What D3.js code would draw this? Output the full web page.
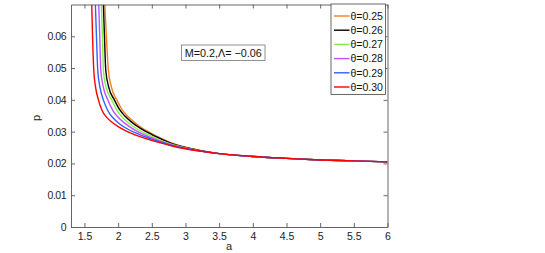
<!DOCTYPE html>
<html><head><meta charset="utf-8">
<script src="https://cdn.jsdelivr.net/npm/d3@7"></script>
<style>body{margin:0;background:#fff}svg{display:block}text{font-family:"Liberation Sans",Arial,sans-serif}</style>
</head><body>
<svg id="c" width="545" height="253"></svg>
<script>
const thetaLabels = ["θ=0.25","θ=0.26","θ=0.27","θ=0.28","θ=0.29","θ=0.30"];
const colors = ["#f07f20","#000000","#80f040","#c050ff","#3060ff","#ff0000"];
const xTicks = [1.5,2,2.5,3,3.5,4,4.5,5,5.5,6];
const yTicks = [0,0.01,0.02,0.03,0.04,0.05,0.06];
const tail = [[3.5,0.0231],[4,0.0222],[4.5,0.0216],[5,0.0211],[5.5,0.0208],[6,0.0205]];
const s025 = [[1.802,0.070],[1.825,0.060],[1.855,0.0494],[1.9,0.044],[1.98,0.040],[2.05,0.0372],[2.13,0.0351],[2.23,0.0332],[2.35,0.0312],[2.5,0.0294],[2.65,0.0278],[2.8,0.0264],[3,0.0251]];
const s026 = [[1.781,0.070],[1.797,0.060],[1.816,0.0494],[1.86,0.044],[1.944,0.040],[2.02,0.0370],[2.1,0.0349],[2.2,0.0330],[2.35,0.0308],[2.5,0.0291],[2.65,0.0276],[2.8,0.0262],[3,0.0250]];
const s027 = [[1.751,0.070],[1.766,0.060],[1.781,0.0494],[1.82,0.044],[1.905,0.040],[1.98,0.0368],[2.05,0.0348],[2.15,0.0328],[2.3,0.0306],[2.45,0.0290],[2.6,0.0275],[2.8,0.0260],[3,0.0249]];
const s028 = [[1.712,0.070],[1.727,0.060],[1.742,0.0494],[1.78,0.044],[1.846,0.040],[1.92,0.0367],[2.0,0.0345],[2.1,0.0326],[2.25,0.0305],[2.4,0.0289],[2.6,0.0272],[2.8,0.0258],[3,0.0248]];
const s029 = [[1.662,0.070],[1.678,0.060],[1.697,0.0494],[1.73,0.044],[1.78,0.040],[1.85,0.0365],[1.93,0.0342],[2.0,0.0328],[2.1,0.0313],[2.25,0.0297],[2.4,0.0284],[2.6,0.0269],[2.8,0.0257],[3,0.0247]];
const s030 = [[1.608,0.070],[1.620,0.060],[1.638,0.0494],[1.665,0.044],[1.707,0.040],[1.76,0.0367],[1.83,0.0345],[1.90,0.0331],[2.0,0.0316],[2.1,0.0304],[2.25,0.0290],[2.4,0.0279],[2.6,0.0266],[2.8,0.0255],[3,0.0246]];
const series = [s025,s026,s027,s028,s029,s030].map(s => s.concat(tail));

const svg = d3.select("#c");
const L=71, R=387.5, T=4.5, B=227;
const x = d3.scaleLinear().domain([1.3,6]).range([L,R]);
const y = d3.scaleLinear().domain([0,0.07]).range([B,T]);
const axisColor = "#666";

const defs = svg.append("defs");
defs.append("clipPath").attr("id","clip").append("rect").attr("x",L).attr("y",T).attr("width",R-L).attr("height",B-T);

const line = d3.line().x(d=>x(d[0])).y(d=>y(d[1])).curve(d3.curveMonotoneX);
const g = svg.append("g").attr("clip-path","url(#clip)");
series.forEach((s,i)=>{
  g.append("path").datum(s).attr("d",line).attr("fill","none").attr("stroke",colors[i]).attr("stroke-width",1.4);
});

function styleAxis(sel){
  sel.selectAll("path").attr("stroke",axisColor);
  sel.selectAll("line").attr("stroke",axisColor);
  sel.selectAll("text").attr("fill","#222").style("font-size","10.5px");
}
const fmtY = d => d===0 ? "0" : d3.format(".2f")(d);
svg.append("g").attr("transform",`translate(0,${B})`)
  .call(d3.axisBottom(x).tickValues(xTicks).tickSize(-4).tickSizeOuter(0).tickPadding(6).tickFormat(d=>String(d)))
  .call(styleAxis);
svg.append("g").attr("transform",`translate(0,${T})`)
  .call(d3.axisTop(x).tickValues(xTicks).tickSize(-4).tickSizeOuter(0).tickFormat(""))
  .call(styleAxis);
svg.append("g").attr("transform",`translate(${L},0)`)
  .call(d3.axisLeft(y).tickValues(yTicks).tickSize(-4).tickSizeOuter(0).tickPadding(5).tickFormat(fmtY))
  .call(styleAxis)
  .call(s => s.selectAll("text").style("letter-spacing","-0.5px"));
svg.append("g").attr("transform",`translate(${R},0)`)
  .call(d3.axisRight(y).tickValues(yTicks).tickSize(-4).tickSizeOuter(0).tickFormat(""))
  .call(styleAxis);

svg.append("text").attr("x",229).attr("y",250).attr("text-anchor","middle").style("font-size","11px").attr("fill","#222").text("a");
svg.append("text").attr("transform","translate(40,118) rotate(-90)").attr("text-anchor","middle").style("font-size","11px").attr("fill","#222").text("p");

// annotation
svg.append("rect").attr("x",181.5).attr("y",45).attr("width",83.5).attr("height",15.5).attr("fill","#fff").attr("stroke","#777").attr("stroke-width",0.8);
svg.append("text").attr("x",223.3).attr("y",56.8).attr("text-anchor","middle").style("font-size","10.8px").attr("fill","#111").text("M=0.2,Λ= −0.06");

// legend
const lg = svg.append("g");
lg.append("rect").attr("x",331).attr("y",4).attr("width",54.5).attr("height",90.5).attr("fill","#fff").attr("stroke","#444").attr("stroke-width",0.8);
thetaLabels.forEach((t,i)=>{
  const yy = 16 + i*14.2;
  lg.append("line").attr("x1",334).attr("x2",349.5).attr("y1",yy).attr("y2",yy).attr("stroke",colors[i]).attr("stroke-width",1.4);
  lg.append("text").attr("x",350.5).attr("y",yy+3.8).style("font-size","10.5px").attr("fill","#111").text(t);
});
</script>
</body></html>
